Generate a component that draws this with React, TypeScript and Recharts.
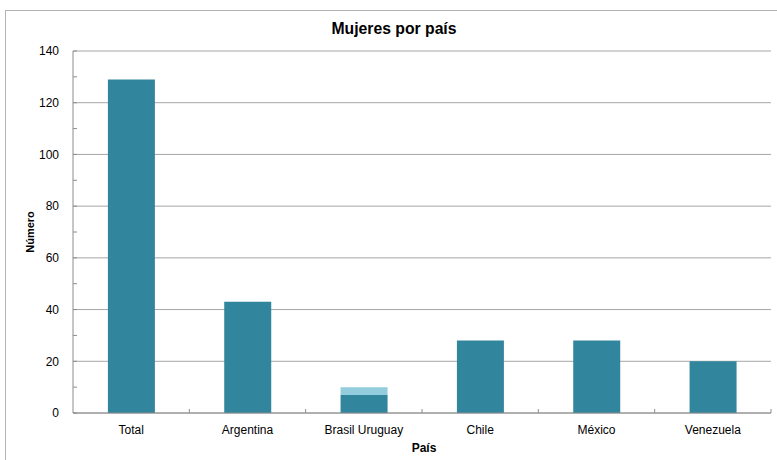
import React from 'react';
import { BarChart, Bar, XAxis, YAxis, CartesianGrid } from 'recharts';

const categories = ['Total', 'Argentina', 'Brasil Uruguay', 'Chile', 'México', 'Venezuela'];
const mujeresBase = [129, 43, 7, 28, 28, 20];
const mujeresExtra = [0, 0, 3, 0, 0, 0];
const yTicks = [0, 10, 20, 30, 40, 50, 60, 70, 80, 90, 100, 110, 120, 130, 140];
const yLabelTicks = [0, 20, 40, 60, 80, 100, 120, 140];
const yMax = 140;

const data = categories.map((c, i) => ({ pais: c, base: mujeresBase[i], extra: mujeresExtra[i] }));

const W = 777;
const H = 460;
const YAXIS_W = 73;
const MARGIN_R = 6;
const MARGIN_T = 51;
const XAXIS_H = 47;
const PLOT_W = W - YAXIS_W - MARGIN_R;
const PLOT_H = H - MARGIN_T - XAXIS_H;
const FONT = '"Liberation Sans", Arial, sans-serif';
const DARK = '#31859C';
const LIGHT = '#93CDDD';
const GRID = '#A6A6A6';
const AXIS = '#8C8C8C';

const YTick = (props: any) => {
  const { x, y, payload } = props;
  if (payload.value % 20 !== 0) return <g />;
  return (
    <text x={x} y={y} dy="0.355em" textAnchor="end" fontSize={12} fontFamily={FONT} fill="#000">
      {payload.value}
    </text>
  );
};

const XTick = (props: any) => {
  const { x, y, payload, visibleTicksCount } = props;
  const band = PLOT_W / (visibleTicksCount || categories.length);
  const bx = x + band / 2;
  return (
    <g>
      <line x1={bx} x2={bx} y1={y} y2={y - 4} stroke={AXIS} strokeWidth={1} />
      <text x={x} y={y + 21} textAnchor="middle" fontSize={12} fontFamily={FONT} fill="#000">
        {payload.value}
      </text>
    </g>
  );
};

const gridGen = (args: any) => {
  const yAxis = args && args.yAxis;
  const off = args && args.offset;
  return yLabelTicks.map((v) => {
    if (yAxis && typeof yAxis.scale === 'function') {
      const r = yAxis.scale(v);
      if (typeof r === 'number' && !isNaN(r)) return r;
    }
    const top = off ? off.top : MARGIN_T;
    const h = off ? off.height : PLOT_H;
    return top + h * (1 - v / yMax);
  });
};

export default function App() {
  return (
    <div style={{ position: 'absolute', left: 0, top: 0, width: W, height: H, background: '#fff' }}>
      <BarChart
        width={W}
        height={H}
        data={data}
        margin={{ top: MARGIN_T, right: MARGIN_R, left: 0, bottom: 0 }}
        barCategoryGap="30%"
      >
        <CartesianGrid
          vertical={false}
          stroke={GRID}
          horizontalCoordinatesGenerator={gridGen}
        />
        <XAxis
          dataKey="pais"
          height={XAXIS_H}
          tickLine={false}
          tickSize={0}
          tickMargin={0}
          interval={0}
          stroke={AXIS}
          tick={<XTick />}
        />
        <YAxis
          width={YAXIS_W}
          domain={[0, yMax]}
          ticks={yTicks}
          interval={0}
          tickSize={-4}
          tickMargin={18}
          stroke={AXIS}
          tick={<YTick />}
        />
        <Bar dataKey="base" stackId="a" fill={DARK} isAnimationActive={false} />
        <Bar dataKey="extra" stackId="a" fill={LIGHT} isAnimationActive={false} />
      </BarChart>
      <svg
        width={W}
        height={H}
        style={{ position: 'absolute', left: 0, top: 0, pointerEvents: 'none' }}
      >
        <rect x={5.5} y={10.5} width={W + 20} height={H + 20} fill="none" stroke="#B4B4B4" strokeWidth={1} />
        <text
          x={394}
          y={34}
          textAnchor="middle"
          fontSize={16}
          fontWeight="bold"
          fontFamily={FONT}
          textLength={125}
          lengthAdjust="spacingAndGlyphs"
          fill="#000"
        >
          Mujeres por país
        </text>
        <text
          x={30}
          y={232}
          dy="0.355em"
          textAnchor="middle"
          fontSize={11}
          fontWeight="bold"
          fontFamily={FONT}
          transform="rotate(-90 30 232)"
          fill="#000"
        >
          Número
        </text>
        <text x={424} y={452} textAnchor="middle" fontSize={12} fontWeight="bold" fontFamily={FONT} fill="#000">
          País
        </text>
      </svg>
    </div>
  );
}
